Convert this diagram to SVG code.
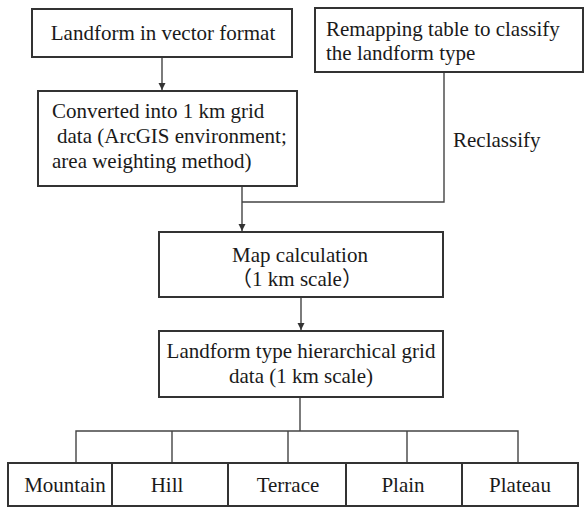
<svg xmlns="http://www.w3.org/2000/svg" width="584" height="510" viewBox="0 0 584 510">
  <defs>
    <marker id="arrow" viewBox="0 0 10 10" refX="10" refY="5" markerWidth="7" markerHeight="10" markerUnits="userSpaceOnUse" orient="auto">
      <path d="M0,0 L10,5 L0,10 Z" fill="#333"/>
    </marker>
    <style>
      .box { fill: #fff; stroke: #333; stroke-width: 2; }
      .lbl { font-family: "Liberation Serif", "Noto Sans CJK SC", serif; font-size: 21px; fill: #1a1a1a; }
      .mid { text-anchor: middle; }
      .wire { fill: none; stroke: #444; stroke-width: 1.4; }
    </style>
  </defs>
  <rect width="584" height="510" fill="#fff"/>

  <!-- connectors -->
  <g id="connectors">
    <line class="wire" x1="162" y1="57" x2="162" y2="90" marker-end="url(#arrow)"/>
    <polyline class="wire" points="444,72 444,202 242,202"/>
    <line class="wire" x1="242" y1="186" x2="242" y2="231" marker-end="url(#arrow)"/>
    <line class="wire" x1="301" y1="297" x2="301" y2="330" marker-end="url(#arrow)"/>
    <line class="wire" x1="300" y1="397" x2="300" y2="431"/>
    <polyline class="wire" points="76,463 76,431 518,431 518,463"/>
    <line class="wire" x1="172" y1="431" x2="172" y2="463"/>
    <line class="wire" x1="288" y1="431" x2="288" y2="463"/>
    <line class="wire" x1="407" y1="431" x2="407" y2="463"/>
    <text class="lbl" x="453" y="147">Reclassify</text>
  </g>

  <g id="vector-landform">
    <rect class="box" x="32" y="9" width="260" height="48"/>
    <text class="lbl mid" x="163" y="40">Landform in vector format</text>
  </g>

  <g id="grid-conversion">
    <rect class="box" x="38" y="91" width="259" height="95"/>
    <text class="lbl" x="52" y="118">Converted into 1 km grid</text>
    <text class="lbl" x="57" y="143">data (ArcGIS environment;</text>
    <text class="lbl" x="52" y="168">area weighting method)</text>
  </g>

  <g id="remapping-table">
    <rect class="box" x="315" y="8" width="268" height="64"/>
    <text class="lbl" x="326" y="36">Remapping table to classify</text>
    <text class="lbl" x="326" y="60">the landform type</text>
  </g>

  <g id="map-calculation">
    <rect class="box" x="159" y="232" width="284" height="65"/>
    <text class="lbl mid" x="300" y="262">Map calculation</text>
    <text class="lbl mid" x="297" y="286">（1 km scale）</text>
  </g>

  <g id="hierarchical-grid">
    <rect class="box" x="159" y="331" width="284" height="66"/>
    <text class="lbl mid" x="301" y="358">Landform type hierarchical grid</text>
    <text class="lbl mid" x="301" y="383">data (1 km scale)</text>
  </g>

  <g id="mountain">
    <rect class="box" x="8" y="463" width="104" height="43"/>
    <text class="lbl mid" x="65" y="492">Mountain</text>
  </g>
  <g id="hill">
    <rect class="box" x="112" y="463" width="116" height="43"/>
    <text class="lbl mid" x="167" y="492">Hill</text>
  </g>
  <g id="terrace">
    <rect class="box" x="228" y="463" width="118" height="43"/>
    <text class="lbl mid" x="288" y="492">Terrace</text>
  </g>
  <g id="plain">
    <rect class="box" x="346" y="463" width="116" height="43"/>
    <text class="lbl mid" x="403" y="492">Plain</text>
  </g>
  <g id="plateau">
    <rect class="box" x="462" y="463" width="116" height="43"/>
    <text class="lbl mid" x="520" y="492">Plateau</text>
  </g>
</svg>
